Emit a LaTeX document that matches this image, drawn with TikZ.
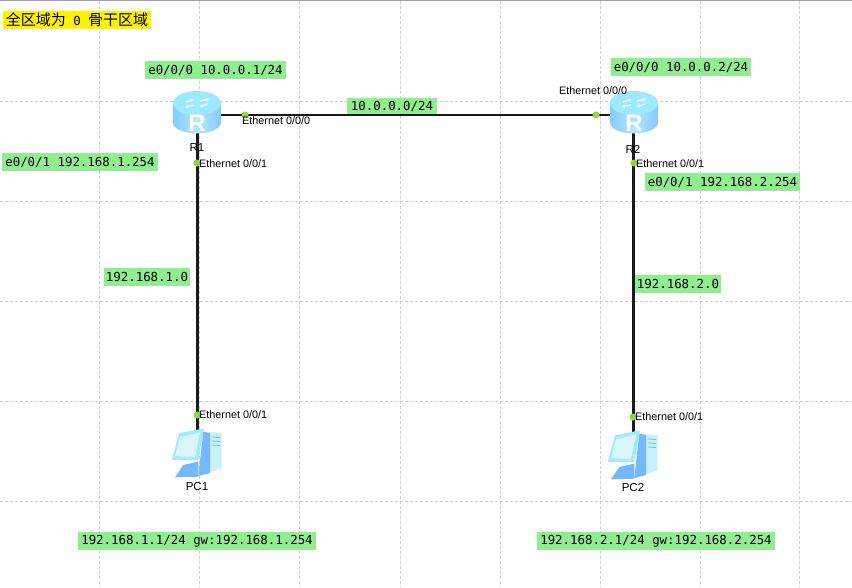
\documentclass[tikz,border=0pt]{standalone}
\usepackage{fontspec}
\setmainfont{Liberation Sans}
\newfontfamily\cjkfont{Noto Sans CJK SC}
\newfontfamily\labelmono{DejaVu Sans Mono}
\usetikzlibrary{arrows.meta}
\definecolor{gridgray}{HTML}{D2D2D2}
\definecolor{labelgreen}{HTML}{90EE90}
\definecolor{portdot}{HTML}{8CD93C}
\definecolor{linkblack}{HTML}{1A1A1A}
\definecolor{routerside}{HTML}{84CBFF}
\definecolor{routermid}{HTML}{B4E6FF}
\definecolor{routertop}{HTML}{9DE9FF}
\definecolor{pcframe}{HTML}{A2EAFF}
\definecolor{pcscreen}{HTML}{D8F6FF}
\definecolor{pcblue}{HTML}{74B8FF}
\definecolor{pctower}{HTML}{C6F1FF}
\tikzset{
  gridline/.style={draw=gridgray,line width=0.9pt,dash pattern=on 3pt off 2pt},
  link/.style={draw=linkblack,line width=2.2pt},
  tag/.style={fill=labelgreen,inner sep=0pt,minimum height=18pt,font=\labelmono\fontsize{12.4}{14}\selectfont,text=black},
  porttext/.style={anchor=west,inner sep=0pt,font=\fontsize{10.8}{12}\selectfont,text=black},
  devname/.style={inner sep=0pt,font=\fontsize{11.5}{13}\selectfont,text=black},
  anchorpoint/.style={inner sep=0pt,minimum size=0pt},
  routericon/.pic={
    \shade[left color=routerside,right color=routerside,middle color=routermid]
      (-24,-9) -- (-24,10.5) arc[start angle=180,end angle=0,x radius=24,y radius=11] -- (24,-9) -- cycle;
    \fill[routertop] (0,-9) ellipse[x radius=24,y radius=12];
    \draw[white,line width=1.2pt,-{Stealth[length=3pt,width=3.5pt]}] (-3,-7) -- (-12,-5);
    \draw[white,line width=1.2pt,-{Stealth[length=3pt,width=3.5pt]}] (11,-8) -- (3,-5.5);
    \draw[white,line width=1.2pt,-{Stealth[length=3pt,width=3.5pt]}] (3,-11) -- (12,-13);
    \draw[white,line width=1.2pt,-{Stealth[length=3pt,width=3.5pt]}] (-11,-10) -- (-3,-12.5);
    \node[inner sep=0pt,text=white,font=\bfseries\fontsize{24}{24}\selectfont] (letter) at (0,11) {R};
  },
  pcicon/.pic={
    \fill[pctower] (6.3,-24.3) -- (24.7,-22.7) -- (24.7,12.3) -- (4.7,19) -- cycle;
    \fill[pcblue] (6.3,-24.3) -- (13,-22.7) -- (13,17) -- (1.3,20) -- cycle;
    \draw[pcblue,line width=0.8pt] (15,-19) -- (23,-18.5) (15,-15) -- (23,-14.5) (15,-11) -- (23,-10.5);
    \fill[pcblue] (-13.7,9) -- (1.3,5.7) -- (1.3,20.7) -- (-22,21.3) -- cycle;
    \fill[pcframe] (-18,-22.7) -- (7,-27.7) -- (1.3,4) -- (-25.3,4) -- cycle;
    \fill[pcscreen] (-17,-18.7) -- (3,-23.7) -- (-2,1.3) -- (-22,0) -- cycle;
  }
}
\begin{document}
\begin{tikzpicture}[x=1pt,y=-1pt]
\useasboundingbox (0,0) rectangle (852,587);
\fill[white] (0,0) rectangle (852,587);
\fill[gray!70!blue!60] (0,0) rectangle (852,1);
\foreach \gx in {99.5,199.5,299.5,400,500,600,700,799}{\draw[gridline] (\gx,1) -- (\gx,587);}
\foreach \gy in {101,201,301,401,501}{\draw[gridline] (0,\gy) -- (852,\gy);}
% device anchors
\node[anchorpoint] (R1) at (197.5,115) {};
\node[anchorpoint] (R2) at (633.5,115) {};
\node[anchorpoint] (PC1) at (197.5,431) {};
\node[anchorpoint] (PC2) at (633.5,433) {};
% links
\draw[link] (R1) -- (R2);
\draw[link] (R1) -- (PC1);
\draw[link] (R2) -- (PC2);
% icons
\pic at (197,112) {routericon};
\pic at (634,112) {routericon};
\pic at (197,456) {pcicon};
\pic at (633,458) {pcicon};
% port dots
\foreach \px/\py in {245/115,596/115,197/163,634/163,197/415,633/417}{\fill[portdot] (\px,\py) circle[radius=3.5];}
% port labels
\node[porttext] (p1) at (242,121) {Ethernet 0/0/0};
\node[porttext] (p2) at (559,91) {Ethernet 0/0/0};
\node[porttext] (p3) at (199,164) {Ethernet 0/0/1};
\node[porttext] (p4) at (636,164) {Ethernet 0/0/1};
\node[porttext] (p5) at (199,415) {Ethernet 0/0/1};
\node[porttext] (p6) at (635,417) {Ethernet 0/0/1};
\node[devname] (n1) at (197,148) {R1};
\node[devname] (n2) at (633,149) {R2};
\node[devname] (n3) at (197,487) {PC1};
\node[devname] (n4) at (633,488) {PC2};
% green tags
\node[tag,minimum width=141pt] (t1) at (215.5,70) {e0/0/0 10.0.0.1/24};
\node[tag,minimum width=156pt] (t2) at (80,162) {e0/0/1 192.168.1.254};
\node[tag,minimum width=90pt,minimum height=16.5pt] (t3) at (392,106) {10.0.0.0/24};
\node[tag,minimum width=140pt] (t4) at (681,67) {e0/0/0 10.0.0.2/24};
\node[tag,minimum width=155pt] (t5) at (722.5,182) {e0/0/1 192.168.2.254};
\node[tag,minimum width=86pt] (t6) at (147,277) {192.168.1.0};
\node[tag,minimum width=86pt] (t7) at (678,284) {192.168.2.0};
\node[tag,minimum width=238pt] (t8) at (197,541) {192.168.1.1/24 gw:192.168.1.254};
\node[tag,minimum width=238pt] (t9) at (656,541) {192.168.2.1/24 gw:192.168.2.254};
% title
\node[fill=yellow,inner sep=0pt,minimum width=148pt,minimum height=18pt,text=black] (title) at (77,20)
  {\fontsize{15}{16}\selectfont\cjkfont 全区域为{\labelmono\fontsize{12.4}{14}\selectfont\ 0\ }骨干区域};
\end{tikzpicture}
\end{document}
